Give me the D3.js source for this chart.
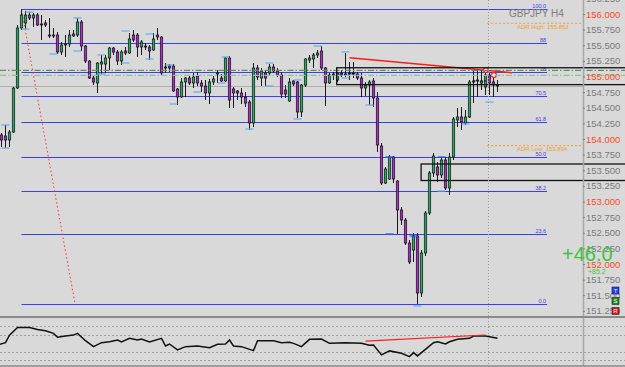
<!DOCTYPE html>
<html>
<head>
<meta charset="utf-8">
<script src="https://cdn.jsdelivr.net/npm/d3@7"></script>
<style>
  body { margin: 0; background: #d9d9d9; }
  svg { display: block; font-family: "Liberation Sans", Arial, sans-serif; }
</style>
</head>
<body>
<svg width="625" height="367"></svg>
<script>
// GBPJPY H4 candles: [open, high, low, close]
const candles = [
  [154.064,154.096,153.872,153.984],[154.048,154.224,153.856,153.984],[153.984,154.144,153.872,154.112],
  [154.112,154.832,154.096,154.816],[154.816,155.824,154.8,155.776],[155.776,156.075,155.744,155.984],
  [155.856,156.048,155.76,155.984],[155.984,156.032,155.904,155.936],[155.936,156.016,155.792,155.984],
  [155.984,156.016,155.808,155.824],[155.84,155.984,155.584,155.824],[155.856,155.904,155.792,155.824],
  [155.664,155.936,155.616,155.648],[155.648,155.776,155.616,155.664],[155.664,155.712,155.36,155.392],
  [155.392,155.552,155.344,155.504],[155.52,155.664,155.312,155.504],[155.52,155.744,155.472,155.664],
  [155.68,155.744,155.632,155.648],[155.664,155.936,155.632,155.872],[155.872,155.904,155.408,155.488],
  [155.488,155.504,155.216,155.248],[155.248,155.264,154.96,154.976],[154.976,155.024,154.864,154.912],
  [154.896,155.232,154.736,155.216],[155.2,155.344,155.04,155.232],[155.2,155.344,155.056,155.296],
  [155.296,155.472,155.104,155.456],[155.456,155.472,155.344,155.392],[155.392,155.424,155.184,155.248],
  [155.248,155.424,155.184,155.392],[155.408,155.472,155.344,155.376],[155.376,155.696,155.36,155.6],
  [155.664,155.744,155.552,155.584],[155.664,155.696,155.312,155.472],[155.472,155.584,155.344,155.552],
  [155.488,155.536,155.424,155.472],[155.472,155.504,155.264,155.408],[155.424,155.696,155.408,155.6],
  [155.664,155.776,155.584,155.632],[155.632,155.648,155.024,155.056],[155.136,155.216,155.056,155.152],
  [155.168,155.2,155.072,155.136],[155.168,155.2,154.752,154.768],[154.8,154.816,154.544,154.672],
  [154.672,154.976,154.656,154.912],[154.912,154.992,154.672,154.976],[154.976,155.024,154.864,154.896],
  [154.896,155.056,154.816,154.992],[155.008,155.072,154.848,154.896],[154.896,154.944,154.752,154.848],
  [154.848,154.944,154.624,154.736],[154.736,154.96,154.56,154.912],[154.912,155.008,154.864,154.96],
  [155.04,155.104,154.896,155.056],[154.976,155.04,154.912,154.928],[154.928,155.312,154.912,155.296],
  [155.296,155.328,154.496,154.624],[154.8,154.832,154.496,154.736],[154.768,154.784,154.624,154.736],
  [154.736,154.816,154.56,154.672],[154.672,154.752,154.512,154.576],[154.592,154.624,154.144,154.256],
  [154.256,155.216,154.192,155.136],[155.136,155.184,154.944,154.992],[154.976,155.136,154.848,155.088],
  [155.056,155.104,154.848,154.976],[155.056,155.2,155.024,155.152],[155.152,155.2,155.056,155.088],
  [155.088,155.136,154.992,155.024],[155.024,155.072,154.656,154.72],[154.784,154.864,154.656,154.72],
  [154.608,154.976,154.592,154.912],[154.928,154.944,154.848,154.88],[154.912,154.928,154.336,154.432],
  [154.432,154.88,154.352,154.864],[154.864,155.296,154.832,155.28],[155.264,155.344,155.216,155.296],
  [155.28,155.376,155.136,155.344],[155.344,155.424,155.296,155.376],[155.408,155.488,155.104,155.136],
  [155.136,155.152,154.528,154.896],[154.896,155.056,154.88,155.024],[155.024,155.072,154.944,155.04],
  [154.944,155.072,154.912,155.056],[155.056,155.104,154.992,155.024],[155.04,155.376,154.992,155.024],
  [155.04,155.232,154.944,155.056],[155.056,155.232,154.976,155.04],[155.04,155.072,154.944,154.976],
  [154.976,155.056,154.672,154.816],[154.816,154.912,154.688,154.864],[154.864,154.944,154.544,154.912],
  [154.928,154.976,154.512,154.656],[154.656,154.752,153.792,153.904],[153.888,153.936,153.264,153.296],
  [153.296,153.552,153.28,153.52],[153.36,153.744,153.344,153.712],[153.712,153.728,153.296,153.36],
  [153.328,153.344,152.48,152.864],[152.864,152.912,152.624,152.704],[152.704,152.736,152.304,152.336],
  [152.336,152.384,152.0,152.032],[152.224,152.496,152.032,152.448],[152.448,152.496,151.36,151.536],
  [151.536,152.224,151.472,152.176],[152.176,152.848,152.128,152.816],[152.816,153.488,152.784,153.456],
  [153.456,153.776,153.392,153.728],[153.552,153.632,153.312,153.424],[153.424,153.712,153.376,153.664],
  [153.664,153.712,153.184,153.216],[153.216,153.776,153.104,153.712],[153.712,154.352,153.664,154.32],
  [154.304,154.496,154.192,154.352],[154.352,154.512,154.144,154.272],[154.256,154.464,154.224,154.352],
  [154.352,154.944,154.336,154.912],[154.912,155.104,154.576,154.928],[154.928,155.104,154.672,154.944],
  [154.896,155.104,154.784,154.928],[154.832,155.104,154.704,155.024],[155.024,155.056,154.704,154.896],
  [154.912,155.056,154.672,154.864],[154.864,154.944,154.752,154.848]
];

// fibonacci retracement drawn from the high (bar 5) to the low
const fibHigh = 156.075, fibLow = 151.36;
const fibLevels = [0, 23.6, 38.2, 50, 61.8, 70.5, 78.6, 88.6, 100];
const fibLabels = ["0.0", "23.6", "38.2", "50.0", "61.8", "70.5", "78", "88", "100.0"];
const fibStart = 5, fibEnd = 136.4, fibAnchor2 = 18.4;

// price axis ticks
const priceTicks = d3.range(0, 21).map(k => 151.25 + k * 0.25);

// fractal-style marks [bar, price]
const marksLight = [[1,154.224],[1,153.856],[7,156.032],[6,155.76],[19,155.936],[19,155.408],[13,155.36],
  [25,155.344],[25,155.04],[31,155.728],[31,155.216],[37,155.68],[37,155.28],[56,155.312],[55,154.896],
  [42,155.184],[43,154.56],[49,154.752],[62,154.16],[67,155.216],[67,154.848],[79,155.488],[74,154.944],
  [74,154.32],[86,155.392],[86,154.976],[92,154.544],[104,151.328],[110,153.168],[116,154.24],[122,154.592]];
const marksDark = [[97,153.712],[97,152.48],[103,152.448],[110,153.712]];

// short dashed order lines [fromBar, toBar, price]
const orderLines = [[84, 88.5, 155.04], [118, 121.5, 154.928]];

// zones [startBar, top, bottom]
const zones = [[83.8, 155.14, 154.87], [104.9, 153.6, 153.336]];
const adrHigh = 155.852, adrLow = 153.894, adrStart = 121.4;
const dashDot = [155.099, 155.019];
const trendLine = [[87, 155.30], [127.6, 155.06]];
const trendDots = [[121.1, 155.104], [123.1, 155.024]];
const separatorBar = 121.6;

// oscillator (sub window) [bar, value]
const osc = [[-0.4,-15],[1,4],[2,93],[4,183],[7,183],[9,160],[11,144],[13,113],[14,67],[16,82],[18,93],
  [19,113],[21,27],[23,-43],[25,4],[27,15],[29,35],[30,12],[32,55],[34,35],[35,47],[37,12],[40,55],
  [41,-35],[42,-12],[44,-82],[46,-43],[49,-35],[52,-55],[54,-15],[56,-12],[57,35],[58,-35],[60,-43],
  [63,-90],[64,27],[68,27],[70,4],[72,8],[73,-4],[75,-43],[77,43],[80,47],[82,-4],[86,4],[90,-4],
  [92,-27],[93,-23],[95,-140],[97,-93],[100,-120],[102,-160],[103,-113],[104,-152],[108,4],[109,15],
  [111,-12],[112,15],[114,43],[117,55],[118,82],[121,82],[124,55]];
const oscTrend = [[91, 23], [121, 94]];
const oscLevels = [200, 100, -100, -200];

const W = 625, H = 367, axisX = 583, mainBottom = 316;
const bull = "#2fa866", bear = "#a52fc4", fibColor = "#3c3cf5";

const svg = d3.select("svg");
const x = d3.scaleLinear().domain([0, 1]).range([1.5, 5.5]);
const y = d3.scaleLinear().domain([152, 156]).range([264, 14]);
const yo = d3.scaleLinear().domain([-200, 200]).range([360, 326]);

svg.append("rect").attr("width", W).attr("height", H).attr("fill", "#d9d9d9");

const defs = svg.append("defs");
defs.append("clipPath").attr("id", "cmain").append("rect").attr("width", axisX).attr("height", mainBottom);
defs.append("clipPath").attr("id", "cfull").append("rect").attr("width", W).attr("height", mainBottom);
defs.append("clipPath").attr("id", "csub").append("rect").attr("y", 318).attr("width", axisX).attr("height", 48);

const main = svg.append("g").attr("clip-path", "url(#cmain)");
const full = svg.append("g").attr("clip-path", "url(#cfull)");

// fib levels
const fib = main.append("g");
fibLevels.forEach((lv, i) => {
  const py = Math.round(y(fibLow + (fibHigh - fibLow) * lv / 100)) + 0.5;
  fib.append("line").attr("x1", x(fibStart)).attr("x2", x(fibEnd)).attr("y1", py).attr("y2", py)
    .attr("stroke", fibColor).attr("stroke-width", 1);
  fib.append("text").attr("x", x(fibEnd) - 1).attr("y", py - 1.5).attr("text-anchor", "end")
    .attr("font-size", 5.5).attr("fill", fibColor).text(fibLabels[i]);
});
main.append("line")
  .attr("x1", x(fibStart)).attr("y1", y(fibHigh)).attr("x2", x(fibAnchor2)).attr("y2", y(fibLow))
  .attr("stroke", "#ff3030").attr("stroke-width", 1).attr("stroke-dasharray", "1.5,2.5");

// bid line
const last = candles[candles.length - 1];
main.append("line").attr("x1", 0).attr("x2", axisX)
  .attr("y1", Math.round(y(last[3])) + 0.5).attr("y2", Math.round(y(last[3])) + 0.5)
  .attr("stroke", "#b0b0b0");

// dash-dot levels
full.selectAll(".dd").data(dashDot).join("line")
  .attr("x1", 0).attr("x2", W).attr("y1", d => y(d)).attr("y2", d => y(d))
  .attr("stroke", (d, i) => i ? "#8fc48f" : "#5e8f5e").attr("stroke-width", 1.2)
  .attr("stroke-dasharray", "6,2,1.5,2");

// vertical period separator
svg.append("line").attr("x1", Math.round(x(separatorBar)) + 0.5).attr("x2", Math.round(x(separatorBar)) + 0.5)
  .attr("y1", 0).attr("y2", H).attr("stroke", "#9a9a9a").attr("stroke-dasharray", "1,2");

// ADR lines
[[adrHigh, "ADR High: "], [adrLow, "ADR Low: "]].forEach(([v, t]) => {
  main.append("line").attr("x1", x(adrStart)).attr("x2", axisX).attr("y1", y(v)).attr("y2", y(v))
    .attr("stroke", "#f0a030").attr("stroke-dasharray", "2,2");
  main.append("text").attr("x", 517).attr("y", y(v) + 5.5).attr("font-size", 6)
    .attr("fill", "#f0a030").text(t + v.toFixed(3));
});

// candles
const bars = main.append("g").selectAll("g").data(candles).join("g");
bars.append("rect")
  .attr("x", (d, i) => x(i) - 0.5).attr("width", 1)
  .attr("y", d => y(d[1])).attr("height", d => Math.max(1, y(d[2]) - y(d[1])))
  .attr("fill", "#1a1a1a");
bars.append("rect")
  .attr("x", (d, i) => x(i) - 1.2).attr("width", 2.4)
  .attr("y", d => y(Math.max(d[0], d[3]))).attr("height", d => Math.max(1, Math.abs(y(d[0]) - y(d[3]))))
  .attr("fill", d => d[3] >= d[0] ? bull : bear)
  .attr("stroke", "#111").attr("stroke-width", 0.7);

// fractal marks
main.selectAll(".ml").data(marksLight).join("line")
  .attr("x1", d => x(d[0]) - 4).attr("x2", d => x(d[0]) + 4)
  .attr("y1", d => y(d[1])).attr("y2", d => y(d[1]))
  .attr("stroke", "#62aef2").attr("stroke-width", 1.2);
main.selectAll(".md").data(marksDark).join("line")
  .attr("x1", d => x(d[0]) - 4).attr("x2", d => x(d[0]) + 4)
  .attr("y1", d => y(d[1])).attr("y2", d => y(d[1]))
  .attr("stroke", "#1c5cff").attr("stroke-width", 1.2);

// order lines
main.selectAll(".ord").data(orderLines).join("line")
  .attr("x1", d => x(d[0])).attr("x2", d => x(d[1]))
  .attr("y1", d => y(d[2])).attr("y2", d => y(d[2]))
  .attr("stroke", "#111").attr("stroke-width", 1).attr("stroke-dasharray", "2,1.5");

// zones
full.selectAll(".zone").data(zones).join("rect")
  .attr("x", d => x(d[0])).attr("y", d => y(d[1]))
  .attr("width", d => W + 5 - x(d[0])).attr("height", d => y(d[2]) - y(d[1]))
  .attr("fill", "none").attr("stroke", "#111").attr("stroke-width", 1.3);

// trend line and dots
main.append("line")
  .attr("x1", x(trendLine[0][0])).attr("y1", y(trendLine[0][1]))
  .attr("x2", x(trendLine[1][0])).attr("y2", y(trendLine[1][1]))
  .attr("stroke", "#ff1a1a").attr("stroke-width", 1.4);
main.selectAll(".td").data(trendDots).join("circle")
  .attr("cx", d => x(d[0])).attr("cy", d => y(d[1])).attr("r", 2.4)
  .attr("fill", "#fff").attr("stroke", "#ff1a1a").attr("stroke-width", 1.2);

// symbol label
svg.append("text").attr("x", 509).attr("y", 16.5).attr("font-size", 10).attr("fill", "#7d7d7d")
  .text("GBPJPY H4");

// price axis
svg.append("line").attr("x1", axisX + 0.5).attr("x2", axisX + 0.5).attr("y1", 0).attr("y2", H)
  .attr("stroke", "#a8a8a8").attr("stroke-width", 1.5);
const ax = svg.append("g").attr("transform", `translate(${axisX},0)`)
  .call(d3.axisRight(y).tickValues(priceTicks).tickFormat(d3.format(".3f")).tickSize(2).tickPadding(1));
ax.select(".domain").remove();
ax.selectAll("line").attr("stroke", "#808080");
ax.selectAll("text")
  .attr("font-size", 9.5).attr("font-family", "Liberation Sans, Arial, sans-serif")
  .attr("fill", d => Math.abs(d - Math.round(d)) < 1e-6 ? "#ff4a1a" : "#7a7a7a");

// profit labels
svg.append("text").attr("x", 562).attr("y", 261).attr("font-size", 20).attr("fill", "#3cc43c").text("+46.0");
svg.append("text").attr("x", 588).attr("y", 273.5).attr("font-size", 7).attr("fill", "#3cc43c").text("+85.2");

// T / S / R buttons
[["T", "#1f3cff", 287], ["S", "#1e8a1e", 297.5], ["R", "#d41c1c", 307.5]].forEach(([t, c, by]) => {
  svg.append("rect").attr("x", 612).attr("y", by).attr("width", 7).attr("height", 7)
    .attr("fill", c).attr("stroke", "#222").attr("stroke-width", 0.6);
  svg.append("text").attr("x", 615.5).attr("y", by + 5.8).attr("text-anchor", "middle")
    .attr("font-size", 6).attr("fill", "#fff").text(t);
});

// sub window
svg.append("rect").attr("x", 0).attr("y", mainBottom).attr("width", W).attr("height", 2).attr("fill", "#8a8a8a");
svg.append("line").attr("x1", 0).attr("x2", W).attr("y1", 366).attr("y2", 366).attr("stroke", "#8a8a8a").attr("stroke-width", 1.5);
svg.selectAll(".ol").data(oscLevels).join("line")
  .attr("x1", 0).attr("x2", W).attr("y1", d => Math.round(yo(d)) + 0.5).attr("y2", d => Math.round(yo(d)) + 0.5)
  .attr("stroke", "#a0a0a0").attr("stroke-dasharray", "2,2");
const sub = svg.append("g").attr("clip-path", "url(#csub)");
sub.append("path").datum(osc)
  .attr("d", d3.line().x(d => x(d[0])).y(d => yo(d[1])))
  .attr("fill", "none").attr("stroke", "#111").attr("stroke-width", 1.5);
sub.append("line")
  .attr("x1", x(oscTrend[0][0])).attr("y1", yo(oscTrend[0][1]))
  .attr("x2", x(oscTrend[1][0])).attr("y2", yo(oscTrend[1][1]))
  .attr("stroke", "#ff1a1a").attr("stroke-width", 1.2);
</script>
</body>
</html>
